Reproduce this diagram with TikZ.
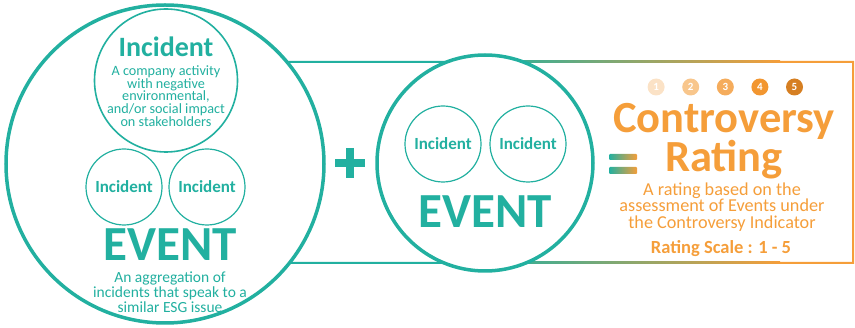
\documentclass[tikz,border=0pt]{standalone}
\usepackage{fontspec}
\setmainfont{Carlito}
\definecolor{esgteal}{HTML}{22B0A0}
\definecolor{esgorange}{HTML}{F59E3A}
\definecolor{rateA}{HTML}{FBE2C6}
\definecolor{rateB}{HTML}{F8C68C}
\definecolor{rateC}{HTML}{F5AC5C}
\definecolor{rateD}{HTML}{F29630}
\definecolor{rateE}{HTML}{D67F22}
\begin{document}
\begin{tikzpicture}[x=1pt,y=-1pt,
    ring/.style={circle,draw=esgteal,fill=white,inner sep=0pt},
    incsmall/.style={ring,line width=1.2pt,minimum size=76pt,text=esgteal,font=\fontsize{17}{17}\selectfont\bfseries},
    tealtext/.style={text=esgteal,align=center,inner sep=0pt},
    orangetext/.style={text=esgorange,align=center,inner sep=0pt},
    ratedot/.style={circle,inner sep=0pt,minimum size=17pt,text=white,font=\fontsize{11}{11}\selectfont\bfseries}]
\useasboundingbox (0,0) rectangle (855,328);
\fill[esgteal] (288,61) rectangle (480,63) (288,262) rectangle (480,264);
\shade[left color=esgteal,right color=esgorange] (480,61) rectangle (780,63);
\shade[left color=esgteal,right color=esgorange] (480,262) rectangle (780,264);
\fill[esgorange] (780,61) rectangle (854,63) (780,262) rectangle (854,264) (852,61) rectangle (854,264);
\node[ring,line width=3.5pt,minimum size=318pt] (event1) at (165,164) {};
\node[ring,line width=1.6pt,minimum size=143pt] (inc) at (166,80.5) {};
\node[tealtext,font=\fontsize{28}{28}\selectfont\bfseries] (inctitle) at (166,47) {Incident};
\node[tealtext,font=\fontsize{14.2}{12.8}\selectfont] (incdesc) at (166,96) {A company activity\\with negative\\environmental,\\and/or social impact\\on stakeholders};
\node[incsmall] (incA) at (124,187) {Incident};
\node[incsmall] (incB) at (207,187) {Incident};
\node[tealtext,font=\fontsize{49}{49}\selectfont\bfseries] (eventA) at (170,244.5) {EVENT};
\node[tealtext,font=\fontsize{15.5}{15}\selectfont] (eventdesc) at (170,292.5) {An aggregation of\\incidents that speak to a\\similar ESG issue};
\draw[esgteal,line width=8pt] (335,163) -- (365,163) (350,148) -- (350,178);
\node[ring,line width=3.5pt,minimum size=216pt] (event2) at (485,163) {};
\node[incsmall] (incC) at (443,144) {Incident};
\node[incsmall] (incD) at (528,144) {Incident};
\node[tealtext,font=\fontsize{49}{49}\selectfont\bfseries] (eventB) at (485,212) {EVENT};
\shade[left color=esgteal,right color=esgorange,rounded corners=1pt] (609,154) rectangle (637,160);
\shade[left color=esgteal,right color=esgorange,rounded corners=1pt] (609,167) rectangle (637,174);
\foreach \n/\c in {1/rateA,2/rateB,3/rateC,4/rateD,5/rateE}
  \node[ratedot,fill=\c] (rate\n) at ({621.5+34.6*\n},87) {\n};
\node[orangetext,anchor=north,font=\fontsize{44.5}{33}\selectfont\bfseries] (ctitle) at (724,103) {Controversy\\Rating};
\node[orangetext,font=\fontsize{18.2}{16.6}\selectfont] (ratedesc) at (722,207) {A rating based on the\\assessment of Events under\\the Controversy Indicator};
\node[orangetext,font=\fontsize{18.5}{18.5}\selectfont\bfseries] (scale) at (721,248.5) {Rating Scale : 1 - 5};
\end{tikzpicture}
\end{document}
